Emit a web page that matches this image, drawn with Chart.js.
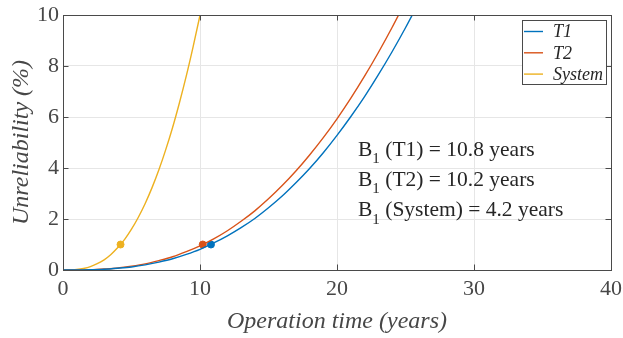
<!DOCTYPE html>
<html>
<head>
<meta charset="utf-8">
<script src="https://cdn.jsdelivr.net/npm/chart.js@4"></script>
<style>
  body { margin: 0; background: #fff; }
  #wrap { width: 623px; height: 338px; position: relative; }
</style>
</head>
<body>
<div id="wrap"><canvas id="unrelChart"></canvas></div>
<script>
// unreliability curves (%), operation time in years
var t1Years = [0, 1, 2, 3, 4, 5, 6, 7, 8, 9, 10, 11, 12, 13, 14, 15, 16, 17, 18, 19, 20, 21, 22, 23, 24, 25, 26];
var t1Unrel = [0, 0.00, 0.01, 0.03, 0.07, 0.12, 0.20, 0.31, 0.44, 0.61, 0.81, 1.06, 1.34, 1.66, 2.02, 2.44, 2.90, 3.42, 3.98, 4.60, 5.28, 6.01, 6.79, 7.64, 8.54, 9.50, 10.52];

var t2Years = [0, 1, 2, 3, 4, 5, 6, 7, 8, 9, 10, 11, 12, 13, 14, 15, 16, 17, 18, 19, 20, 21, 22, 23, 24, 25];
var t2Unrel = [0, 0.00, 0.01, 0.04, 0.08, 0.15, 0.24, 0.37, 0.52, 0.72, 0.95, 1.22, 1.54, 1.91, 2.32, 2.79, 3.31, 3.88, 4.51, 5.19, 5.93, 6.73, 7.59, 8.51, 9.49, 10.53];

var sysYears = [0, 0.5, 1, 1.5, 2, 2.5, 3, 3.5, 4, 4.5, 5, 5.5, 6, 6.5, 7, 7.5, 8, 8.5, 9, 9.5, 10, 10.5];
var sysUnrel = [0, 0.00, 0.02, 0.06, 0.13, 0.25, 0.40, 0.61, 0.88, 1.20, 1.60, 2.07, 2.61, 3.23, 3.93, 4.72, 5.59, 6.56, 7.61, 8.76, 9.99, 11.32];

// B1 life: time at which unreliability reaches 1 %
var seriesNames = ['T1', 'T2', 'System'];
var b1Life = [10.8, 10.2, 4.2];
var b1Level = 1;

var xTicks = [0, 10, 20, 30, 40];
var yTicks = [0, 2, 4, 6, 8, 10];

var colors = ['#0072BD', '#D95319', '#EDB120'];
var curves = [[t1Years, t1Unrel], [t2Years, t2Unrel], [sysYears, sysUnrel]];

var serif = "'Liberation Serif', 'Times New Roman', serif";
var textGray = '#474747';

var datasets = [];
curves.forEach(function (c, i) {
  datasets.push({
    label: seriesNames[i],
    data: c[0].map(function (x, j) { return { x: x, y: c[1][j] }; }),
    showLine: true,
    borderColor: colors[i],
    backgroundColor: colors[i],
    borderWidth: 1.4,
    pointRadius: 0,
    cubicInterpolationMode: 'monotone',
    fill: false
  });
});
b1Life.forEach(function (b, i) {
  datasets.push({
    label: 'B1 ' + seriesNames[i],
    data: [{ x: b, y: b1Level }],
    showLine: false,
    pointRadius: 3.5,
    pointBackgroundColor: colors[i],
    pointBorderColor: colors[i],
    borderColor: colors[i]
  });
});

// box, inward tick marks, legend and B1 notes in the MATLAB look
var axesDecor = {
  id: 'axesDecor',
  afterDatasetsDraw: function (chart) {
    var ctx = chart.ctx, a = chart.chartArea;
    var xs = chart.scales.x, ys = chart.scales.y;
    var tl = 5.5;
    ctx.save();
    ctx.strokeStyle = '#4a4a4a';
    ctx.lineWidth = 1;
    ctx.beginPath();
    xTicks.forEach(function (v) {
      var px = Math.round(xs.getPixelForValue(v)) + 0.5;
      ctx.moveTo(px, a.bottom); ctx.lineTo(px, a.bottom - tl);
      ctx.moveTo(px, a.top); ctx.lineTo(px, a.top + tl);
    });
    yTicks.forEach(function (v) {
      var py = Math.round(ys.getPixelForValue(v)) + 0.5;
      ctx.moveTo(a.left, py); ctx.lineTo(a.left + tl, py);
      ctx.moveTo(a.right, py); ctx.lineTo(a.right - tl, py);
    });
    ctx.stroke();
    ctx.strokeRect(Math.round(a.left) + 0.5, Math.round(a.top) + 0.5,
      Math.round(a.right - a.left), Math.round(a.bottom - a.top));

    // legend
    var lx = 522, ly = 20, lw = 84, lh = 64;
    ctx.fillStyle = '#fff';
    ctx.fillRect(lx, ly, lw, lh);
    ctx.strokeStyle = '#4a4a4a';
    ctx.strokeRect(lx + 0.5, ly + 0.5, lw, lh);
    ctx.font = 'italic 18px ' + serif;
    ctx.textBaseline = 'middle';
    ctx.textAlign = 'left';
    seriesNames.forEach(function (name, i) {
      var ry = 31.5 + i * 21.3;
      ctx.strokeStyle = colors[i];
      ctx.lineWidth = 1.4;
      ctx.beginPath();
      ctx.moveTo(524, ry); ctx.lineTo(543, ry);
      ctx.stroke();
      ctx.fillStyle = '#262626';
      ctx.fillText(name, 553, ry + 1);
    });

    // B1 notes
    ctx.fillStyle = '#262626';
    seriesNames.forEach(function (name, i) {
      var ny = 150 + i * 30.3;
      var x0 = 358;
      ctx.font = '21.5px ' + serif;
      ctx.fillText('B', x0, ny);
      var bw = ctx.measureText('B').width;
      ctx.font = '15px ' + serif;
      ctx.fillText('1', x0 + bw, ny + 9);
      var sw = ctx.measureText('1').width;
      ctx.font = '21.5px ' + serif;
      ctx.fillText(' (' + name + ') = ' + b1Life[i] + ' years', x0 + bw + sw, ny);
    });
    ctx.restore();
  }
};

new Chart(document.getElementById('unrelChart'), {
  type: 'scatter',
  data: { datasets: datasets },
  plugins: [axesDecor],
  options: {
    responsive: true,
    maintainAspectRatio: false,
    animation: false,
    layout: { padding: { top: 15, right: 12, left: 0, bottom: 0 } },
    plugins: {
      legend: { display: false },
      tooltip: { enabled: false }
    },
    scales: {
      x: {
        type: 'linear',
        min: 0, max: 40,
        afterFit: function (s) { s.height = 68; s.paddingLeft = 0; s.paddingRight = 0; },
        afterBuildTicks: function (s) { s.ticks = xTicks.map(function (v) { return { value: v }; }); },
        grid: { color: '#e6e6e6', drawTicks: false },
        border: { display: false },
        ticks: { padding: 6, color: textGray, font: { family: serif, size: 22 } },
        title: {
          display: true,
          text: 'Operation time (years)',
          color: textGray,
          padding: { top: 0, bottom: 2 },
          font: { family: serif, size: 24, style: 'italic' }
        }
      },
      y: {
        min: 0, max: 10,
        afterFit: function (s) { s.width = 63; s.paddingTop = 0; s.paddingBottom = 0; },
        afterBuildTicks: function (s) { s.ticks = yTicks.map(function (v) { return { value: v }; }); },
        grid: { color: '#e6e6e6', drawTicks: false },
        border: { display: false },
        ticks: { padding: 4, color: textGray, font: { family: serif, size: 22 } },
        title: {
          display: true,
          text: 'Unreliability (%)',
          color: textGray,
          padding: { top: 7, bottom: 0 },
          font: { family: serif, size: 24, style: 'italic' }
        }
      }
    }
  }
});
</script>
</body>
</html>
